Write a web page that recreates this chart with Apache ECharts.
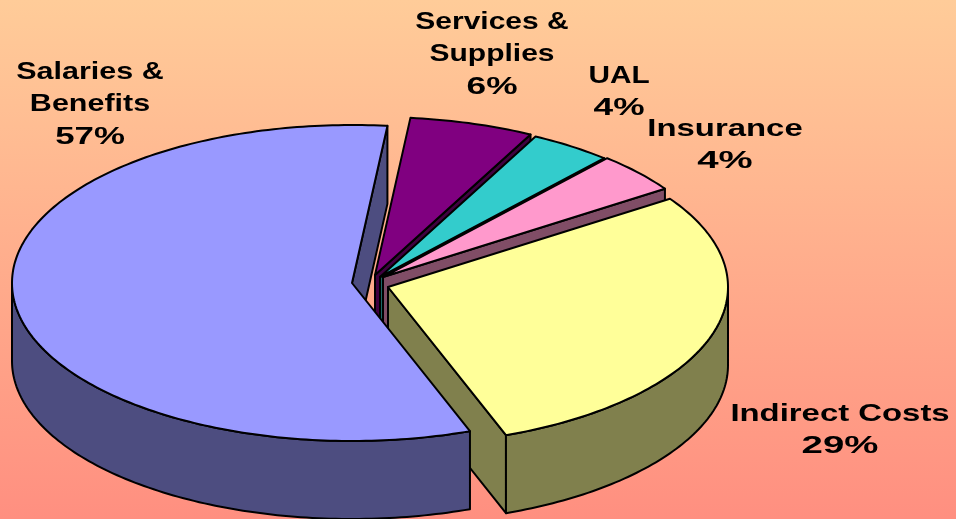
<!DOCTYPE html>
<html>
<head>
<meta charset="utf-8">
<title>Cost shares</title>
<script src="https://cdn.jsdelivr.net/npm/echarts@6/dist/echarts.min.js"></script>
<style>
    html, body { margin: 0; padding: 0; overflow: hidden; }
    #chart { width: 956px; height: 519px; }
</style>
</head>
<body>
<div id="chart"></div>
<script>
var categories = ['Salaries &\nBenefits', 'Services &\nSupplies', 'UAL', 'Insurance', 'Indirect Costs'];
// wedge sizes, the labels show them rounded
var shares = [57.3, 5.9, 3.9, 4.1, 28.8];

var topColors = ['#9999ff', '#800080', '#33cccc', '#ff99cc', '#ffff99'];
var wallColors = ['#4d4d80', '#400040', '#1a6666', '#804d66', '#80804d'];

// where each exploded wedge has its point, and where its label goes
var apexX = [352, 375, 380, 383, 388];
var apexY = [283, 275, 277, 277, 287];
var labelX = [90, 492, 619, 725, 840];
var labelY = [72, 22, 76, 129, 414];
var nameStretch = [1.27, 1.25, 1.24, 1.37, 1.37];
var percentStretch = [1.45, 1.47, 1.47, 1.6, 1.6];

// salaries goes on top of the others, except for its cut face
var drawOrder = [1, 2, 3, 4, 0];

var rx = 340;
var ry = 158;
var depth = 78;
var startAngle = 159.7;
var lineGap = 32.5;

var total = 0;
for (var i = 0; i < shares.length; i++) {
    total += shares[i];
}

function rimPoint(idx, deg, drop) {
    var a = deg * Math.PI / 180;
    return [apexX[idx] + rx * Math.sin(a), apexY[idx] - ry * Math.cos(a) + drop];
}

function poly(points, fill, z2) {
    return {
        type: 'polygon',
        z2: z2,
        shape: { points: points },
        style: { fill: fill, stroke: '#000', lineWidth: 2, lineJoin: 'round' }
    };
}

function cutFace(idx, deg, z2) {
    return poly([
        [apexX[idx], apexY[idx]],
        rimPoint(idx, deg, 0),
        rimPoint(idx, deg, depth),
        [apexX[idx], apexY[idx] + depth]
    ], wallColors[idx], z2);
}

function textLine(str, x, y, stretch) {
    return {
        type: 'text',
        z2: 100,
        x: x,
        y: y,
        scaleX: stretch,
        style: {
            text: str,
            font: 'bold 24px "Liberation Sans", Arial, sans-serif',
            textAlign: 'center',
            textVerticalAlign: 'middle',
            fill: '#000'
        }
    };
}

function renderSlice(params, api) {
    var idx = api.value(0);
    var before = 0;
    for (var i = 0; i < idx; i++) {
        before += shares[i];
    }
    var from = (startAngle + before / total * 360) % 360;
    var to = from + api.value(1) / total * 360;
    var base = (drawOrder.indexOf(idx) + 1) * 10;
    var children = [];

    // cut faces turned to the viewer
    if (Math.sin(to * Math.PI / 180) > 0) {
        children.push(cutFace(idx, to, idx === 0 ? 1 : base));
    }
    if (Math.sin(from * Math.PI / 180) < 0) {
        children.push(cutFace(idx, from, base));
    }

    // outer wall, only the part on the near side of the ellipse
    if (to > 90 && from < 270) {
        var first = Math.max(from, 90);
        var last = Math.min(to, 270);
        var lower = [];
        var upper = [];
        for (var d = first; d < last; d += 1) {
            upper.push(rimPoint(idx, d, 0));
            lower.unshift(rimPoint(idx, d, depth));
        }
        upper.push(rimPoint(idx, last, 0));
        lower.unshift(rimPoint(idx, last, depth));
        children.push(poly(upper.concat(lower), wallColors[idx], base + 1));
    }

    // top face
    var face = [[apexX[idx], apexY[idx]]];
    for (var t = from; t < to; t += 1) {
        face.push(rimPoint(idx, t, 0));
    }
    face.push(rimPoint(idx, to, 0));
    children.push(poly(face, topColors[idx], base + 2));

    // label, one text per line because the percent line is stretched more
    var lines = categories[idx].split('\n');
    for (var n = 0; n < lines.length; n++) {
        children.push(textLine(lines[n], labelX[idx], labelY[idx] + n * lineGap, nameStretch[idx]));
    }
    children.push(textLine(Math.round(api.value(1)) + '%', labelX[idx], labelY[idx] + lines.length * lineGap, percentStretch[idx]));

    return { type: 'group', children: children };
}

var rows = [];
for (var k = 0; k < shares.length; k++) {
    rows.push([k, shares[k]]);
}

var chart = echarts.init(document.getElementById('chart'));
chart.setOption({
    animation: false,
    backgroundColor: {
        type: 'linear', x: 0, y: 0, x2: 0, y2: 1,
        colorStops: [
            { offset: 0, color: '#ffcc99' },
            { offset: 1, color: '#ff8f80' }
        ]
    },
    series: [{
        type: 'custom',
        coordinateSystem: 'none',
        silent: true,
        renderItem: renderSlice,
        data: rows
    }]
});
</script>
</body>
</html>
